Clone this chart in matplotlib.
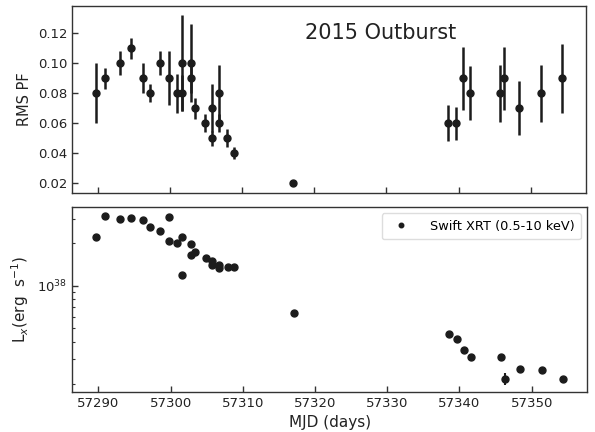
import numpy as np
import matplotlib
matplotlib.use("Agg")
import matplotlib.pyplot as plt
from matplotlib.ticker import LogLocator, NullFormatter, FixedLocator

# ---- data: RMS pulsed fraction (top panel) ----
pf_mjd = [57289.64, 57290.97, 57292.97, 57294.58, 57296.16, 57297.14, 57298.60,
          57299.76, 57300.87, 57301.60, 57301.60, 57302.83, 57302.83, 57303.39,
          57304.86, 57305.79, 57305.79, 57306.76, 57306.76, 57307.92, 57308.80,
          57317.08, 57338.53, 57339.64, 57340.61, 57341.58, 57345.75, 57346.25,
          57348.43, 57351.44, 57354.40]
pf_val = [0.080, 0.090, 0.100, 0.110, 0.090, 0.080, 0.100,
          0.090, 0.080, 0.100, 0.080, 0.100, 0.090, 0.070,
          0.060, 0.070, 0.050, 0.080, 0.060, 0.050, 0.040,
          0.020, 0.060, 0.060, 0.090, 0.080, 0.080, 0.090,
          0.070, 0.080, 0.090]
pf_err = [0.020, 0.007, 0.008, 0.007, 0.010, 0.006, 0.008,
          0.018, 0.013, 0.032, 0.012, 0.026, 0.010, 0.007,
          0.006, 0.016, 0.005, 0.019, 0.006, 0.006, 0.004,
          0.000, 0.012, 0.011, 0.021, 0.018, 0.019, 0.021,
          0.018, 0.019, 0.023]

# ---- data: Swift XRT luminosity (bottom panel) ----
lx_mjd = [57289.64, 57290.97, 57292.97, 57294.58, 57296.16, 57297.14, 57298.60,
          57299.76, 57299.76, 57300.87, 57301.60, 57301.60, 57302.83, 57302.83,
          57303.39, 57304.86, 57305.79, 57305.79, 57306.76, 57306.76, 57307.92,
          57308.80, 57317.08, 57338.53, 57339.64, 57340.61, 57341.58, 57345.75,
          57346.25, 57348.43, 57351.44, 57354.40]
lx_val = [2.20e38, 3.14e38, 2.97e38, 3.04e38, 2.94e38, 2.61e38, 2.46e38,
          3.09e38, 2.07e38, 2.00e38, 2.20e38, 1.19e38, 1.98e38, 1.64e38,
          1.73e38, 1.56e38, 1.50e38, 1.40e38, 1.41e38, 1.34e38, 1.36e38,
          1.35e38, 6.37e37, 4.52e37, 4.14e37, 3.48e37, 3.09e37, 3.09e37,
          2.17e37, 2.57e37, 2.52e37, 2.15e37]
lx_err = [0, 0, 0, 0, 0, 0, 0,
          0, 0, 0, 0, 0, 0, 0,
          0, 0, 0, 0, 0, 0, 0,
          0, 0, 0, 0, 0, 0, 0,
          2.2e36, 0, 1.0e36, 0]

xticks = [57290, 57300, 57310, 57320, 57330, 57340, 57350]

plt.rcParams['font.family'] = ['DejaVu Sans']
dark = '#1c1c1c'
spine_c = '#333333'

fig = plt.figure(figsize=(5.95, 4.32), dpi=100)
ax1 = fig.add_axes([0.121, 0.553, 0.864, 0.433])
ax2 = fig.add_axes([0.121, 0.0926, 0.866, 0.4284], sharex=ax1)

ax1.errorbar(pf_mjd, pf_val, yerr=pf_err, fmt='o', color=dark, ms=5,
             elinewidth=1.8, capsize=0, zorder=3)
ax1.set_ylim(0.0135, 0.138)
ax1.set_yticks([0.02, 0.04, 0.06, 0.08, 0.10, 0.12])
ax1.set_ylabel('RMS PF', fontsize=10.5, color='#222222')
ax1.text(0.6, 0.856, '2015 Outburst', transform=ax1.transAxes,
         fontsize=15, ha='center', va='center', color='#222222')
plt.setp(ax1.get_xticklabels(), visible=False)

ax2.errorbar(lx_mjd, lx_val, yerr=lx_err, fmt='none', ecolor=dark,
             elinewidth=1.5, capsize=0, zorder=2)
ax2.plot(lx_mjd, lx_val, 'o', color=dark, ms=5, zorder=3,
         label='Swift XRT (0.5-10 keV)')
ax2.set_yscale('log')
ax2.set_ylim(1.75e37, 3.63e38)
ax2.yaxis.set_major_locator(FixedLocator([1e38]))
ax2.yaxis.set_minor_locator(LogLocator(base=10, subs=np.arange(2, 10)))
ax2.yaxis.set_minor_formatter(NullFormatter())
ax2.set_ylabel('L$_x$(erg  s$^{-1}$)', fontsize=11, color='#222222')
ax2.set_xlabel('MJD (days)', fontsize=11, color='#222222')
leg = ax2.legend(loc='upper right', fontsize=9.3, markerscale=0.65,
                 frameon=True, fancybox=True, framealpha=1, edgecolor='#dddddd',
                 handletextpad=1.2, borderpad=0.5)

ax1.set_xlim(57286.35, 57357.7)
ax2.set_xticks(xticks)

for ax in (ax1, ax2):
    for s in ax.spines.values():
        s.set_color(spine_c)
        s.set_linewidth(1.0)
    ax.tick_params(axis='both', which='major', direction='in', length=4,
                   width=1, colors=spine_c, labelsize=9.5, labelcolor='#222222')
    ax.tick_params(axis='both', which='minor', direction='in', length=2.5,
                   width=0.8, colors=spine_c)

fig.savefig('out.png', dpi=100)
